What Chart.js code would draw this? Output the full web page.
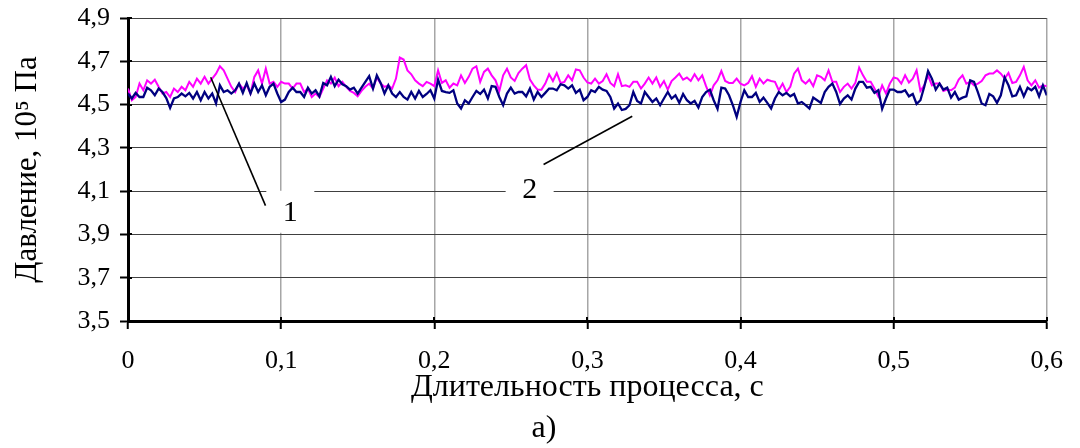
<!DOCTYPE html>
<html><head><meta charset="utf-8">
<script src="https://cdn.jsdelivr.net/npm/chart.js@4.4.1/dist/chart.umd.min.js"></script>
<style>html,body{margin:0;padding:0;background:#fff}#wrap{width:1080px;height:448px;position:relative}</style>
</head><body><div id="wrap"><canvas id="c" width="1080" height="448"></canvas></div>
<script>
// ---- data ----
const timeStep = 0.0025; // s between samples
const curve1 = [ // magenta, label "1"
4.574,4.520,4.535,4.597,4.566,4.612,4.597,4.615,4.582,4.551,
4.558,4.535,4.574,4.558,4.582,4.566,4.605,4.582,4.620,4.597,
4.628,4.597,4.620,4.643,4.677,4.658,4.620,4.582,4.558,4.597,
4.574,4.589,4.551,4.628,4.658,4.597,4.666,4.597,4.605,4.582,
4.605,
4.597,4.597,4.574,4.597,4.597,4.558,4.574,4.535,4.551,4.535,
4.574,4.612,4.597,4.625,4.585,4.605,4.582,4.563,4.554,4.538,
4.563,4.582,4.597,4.574,4.625,4.597,4.582,4.589,4.574,4.620,
4.717,4.708,4.658,4.640,4.612,4.597,4.585,4.605,4.597,4.585,
4.658,4.600,4.612,4.578,4.597,4.589,4.635,4.600,4.628,4.666,
4.677,4.605,4.651,4.666,4.635,4.612,4.563,4.635,4.666,4.625,
4.609,4.646,4.666,4.682,4.615,4.589,4.569,4.569,4.597,4.640,
4.609,4.646,4.600,4.605,4.635,4.612,4.662,4.658,4.625,4.602,
4.597,4.620,4.597,4.609,4.640,4.600,4.585,4.640,4.585,4.589,
4.582,4.605,4.605,4.574,4.597,4.625,4.597,4.625,4.582,4.609,
4.569,4.609,4.625,4.643,4.615,4.625,4.609,4.640,4.612,4.635,
4.585,4.543,4.589,4.612,4.655,4.609,4.600,4.600,4.620,4.597,
4.589,4.600,4.631,4.582,4.620,4.597,4.615,4.609,4.605,4.566,
4.597,4.558,4.582,4.643,4.666,4.612,4.597,4.615,4.585,4.635,
4.628,4.612,4.658,4.605,4.605,4.558,4.582,4.597,4.574,4.600,
4.671,4.635,4.605,4.605,4.574,4.538,4.589,4.551,4.597,4.625,
4.620,4.597,4.635,4.602,4.620,4.658,4.563,4.589,4.635,4.589,
4.597,4.597,4.563,4.569,4.566,4.578,4.615,4.635,4.597,4.605,
4.589,4.597,4.609,4.635,4.643,4.643,4.658,4.643,4.620,4.646,
4.600,4.605,4.635,4.674,4.612,4.589,4.612,4.578,4.589,4.585
];
const curve2 = [ // navy, label "2"
4.551,4.528,4.554,4.535,4.535,4.578,4.566,4.543,4.574,4.558,
4.530,4.485,4.528,4.535,4.551,4.538,4.554,4.528,4.558,4.520,
4.558,4.528,4.551,4.505,4.589,4.558,4.566,4.551,4.566,4.597,
4.554,4.600,4.551,4.597,4.558,4.589,4.543,4.582,4.597,4.551,
4.512,
4.523,4.558,4.578,4.558,4.558,4.535,4.578,4.551,4.566,4.538,
4.600,4.589,4.628,4.585,4.615,4.594,4.585,4.569,4.578,4.551,
4.578,4.605,4.631,4.574,4.635,4.600,4.551,4.589,4.551,4.535,
4.558,4.535,4.523,4.558,4.528,4.563,4.535,4.549,4.566,4.528,
4.615,4.563,4.558,4.554,4.566,4.505,4.482,4.520,4.505,4.535,
4.563,4.549,4.569,4.528,4.585,4.582,4.535,4.497,4.551,4.578,
4.551,4.558,4.558,4.538,4.574,4.523,4.558,4.535,4.554,4.574,
4.574,4.566,4.594,4.589,4.574,4.589,4.554,4.569,4.520,4.535,
4.566,4.558,4.582,4.569,4.563,4.535,4.482,4.505,4.475,4.480,
4.497,4.558,4.517,4.505,4.558,4.535,4.512,4.528,4.497,4.528,
4.558,4.528,4.543,4.508,4.549,4.520,4.505,4.517,4.486,4.535,
4.558,4.569,4.520,4.480,4.578,4.574,4.543,4.497,4.443,4.512,
4.566,4.535,4.535,4.554,4.512,4.532,4.508,4.482,4.528,4.558,
4.543,4.554,4.538,4.549,4.505,4.512,4.497,4.482,4.532,4.520,
4.508,4.558,4.582,4.597,4.558,4.503,4.528,4.543,4.523,4.574,
4.605,4.605,4.578,4.582,4.554,4.566,4.480,4.528,4.569,4.569,
4.558,4.558,4.566,4.538,4.549,4.503,4.520,4.582,4.655,4.620,
4.569,4.597,4.569,4.578,4.532,4.558,4.523,4.532,4.538,4.612,
4.605,4.558,4.505,4.497,4.549,4.538,4.508,4.543,4.625,4.589,
4.538,4.543,4.582,4.538,4.578,4.566,4.582,4.538,4.589,4.543
];
const xTickLabels = ['0','0,1','0,2','0,3','0,4','0,5','0,6'];
const yTickLabels = ['3,5','3,7','3,9','4,1','4,3','4,5','4,7','4,9'];
const xTitle = 'Длительность процесса, с';
const yTitle = 'Давление, 10⁵ Па';
const caption = 'а)';
// callouts in data units: leader line from curve to label, label position
const callout1 = {text:'1', from:[0.054,4.626], to:[0.0898,4.033], at:[0.106,4.0]};
const callout2 = {text:'2', from:[0.3293,4.446], to:[0.2714,4.223], at:[0.2623,4.103]};

// ---- chart ----
const FONT = "'Liberation Serif','Times New Roman',serif";
const toPts = arr => arr.map((v,i)=>({x: i*timeStep, y: v}));

const calloutPlugin = {
  id:'callouts',
  afterDraw(chart){
    const {ctx, scales:{x, y}, chartArea:ca} = chart;
    ctx.save();
    // inner halves of the tick crosses
    ctx.strokeStyle = '#000'; ctx.lineWidth = 2;
    y.ticks.forEach(t=>{ const py = Math.round(y.getPixelForValue(t.value)); ctx.beginPath(); ctx.moveTo(ca.left, py); ctx.lineTo(ca.left+4, py); ctx.stroke(); });
    x.ticks.forEach(t=>{ const px = Math.round(x.getPixelForValue(t.value)); ctx.beginPath(); ctx.moveTo(px, ca.bottom); ctx.lineTo(px, ca.bottom-4); ctx.stroke(); });
    ctx.font = '30px ' + FONT;
    ctx.textAlign = 'center'; ctx.textBaseline = 'middle';
    [callout1, callout2].forEach(c=>{
      const lx = x.getPixelForValue(c.at[0]), ly = y.getPixelForValue(c.at[1]);
      ctx.fillStyle = '#fff';
      ctx.fillRect(lx-24, ly-22, 48, 42);
      ctx.strokeStyle = '#000'; ctx.lineWidth = 1.6;
      ctx.beginPath();
      ctx.moveTo(x.getPixelForValue(c.from[0]), y.getPixelForValue(c.from[1]));
      ctx.lineTo(x.getPixelForValue(c.to[0]), y.getPixelForValue(c.to[1]));
      ctx.stroke();
      ctx.fillStyle = '#000';
      ctx.fillText(c.text, lx, ly);
    });
    ctx.restore();
  }
};

new Chart(document.getElementById('c'), {
  type:'line',
  data:{ datasets:[
    {label:'2', data: toPts(curve2), borderColor:'#000080', borderWidth:2.3, pointRadius:0, tension:0, fill:false},
    {label:'1', data: toPts(curve1), borderColor:'#ff00ff', borderWidth:2, pointRadius:0, tension:0, fill:false}
  ]},
  options:{
    responsive:false, animation:false, devicePixelRatio:1,
    layout:{padding:{left:38,right:30,top:18,bottom:0}},
    plugins:{
      legend:{display:false}, tooltip:{enabled:false},
      title:{display:true, text:caption, position:'bottom', color:'#000', font:{family:FONT,size:32,weight:'normal'}, padding:{top:0,bottom:0}}
    },
    scales:{
      x:{type:'linear', min:0, max:0.6,
        afterFit(s){ s.height = 88.6; },
        ticks:{stepSize:0.1, color:'#000', padding:17, maxRotation:0, font:{family:FONT,size:26},
          callback:(v,i)=>xTickLabels[i]},
        grid:{color:'#a6a6a6', lineWidth:1.5, tickColor:'#000', tickLength:8, tickWidth:2},
        border:{color:'#000', width:3},
        title:{display:true, text:xTitle, color:'#000', font:{family:FONT,size:32}, padding:{top:0,bottom:3}}
      },
      y:{min:3.5, max:4.9,
        afterFit(s){ s.width = 90; },
        ticks:{stepSize:0.2, color:'#000', padding:10, font:{family:FONT,size:26,lineHeight:0.6},
          callback:(v,i)=>yTickLabels[i]},
        grid:{color:'#404040', lineWidth:1, tickColor:'#000', tickLength:8, tickWidth:2},
        border:{color:'#000', width:3},
        title:{display:true, text:yTitle, color:'#000', font:{family:FONT,size:31}, padding:{top:-28.6,bottom:0}}
      }
    }
  },
  plugins:[calloutPlugin]
});
</script></body></html>
